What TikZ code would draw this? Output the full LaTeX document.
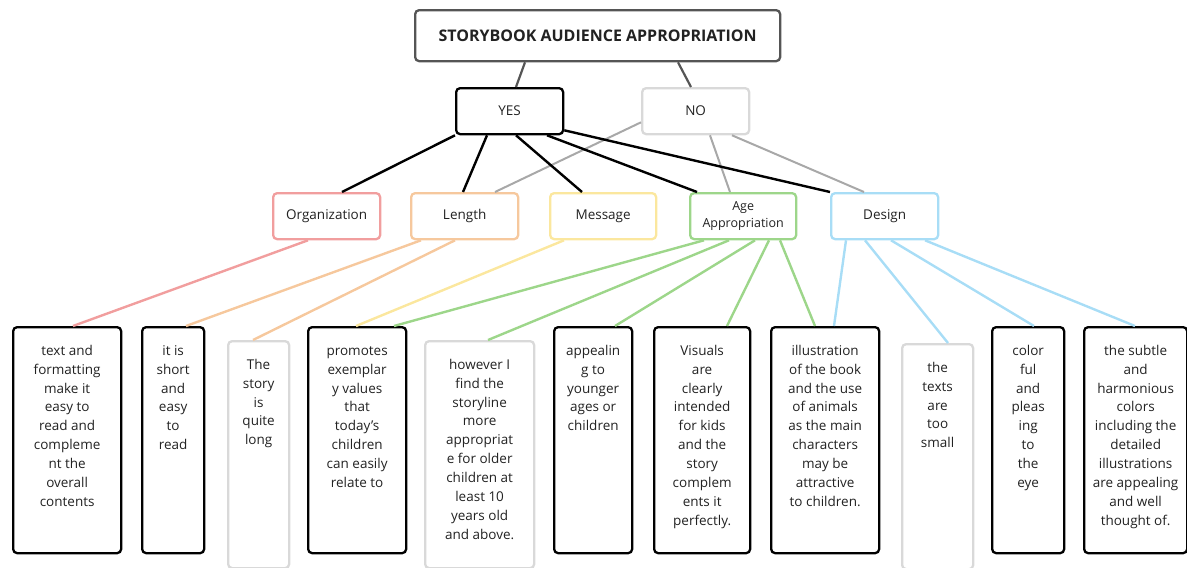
\documentclass[tikz,border=0pt]{standalone}
\usepackage{fontspec}
\setmainfont{Open Sans}
\definecolor{cpink}{HTML}{F19E9E}
\definecolor{corange}{HTML}{F6C89D}
\definecolor{cyellow}{HTML}{FBE79E}
\definecolor{cgreen}{HTML}{9DD68A}
\definecolor{cblue}{HTML}{A8DDF6}
\definecolor{lgray}{HTML}{D9D9D9}
\definecolor{mgray}{HTML}{A8A8A8}
\definecolor{dgray}{HTML}{555555}
\definecolor{txt}{HTML}{222222}
\tikzset{
  box/.style={draw, fill=white, rounded corners=4pt, line width=2.3pt, anchor=north west, inner sep=0pt, text=txt},
  leafbox/.style={box, minimum height=226pt},
  grayleaf/.style={box, draw=lgray, minimum height=226pt},
  cat/.style={box, minimum width=107pt, minimum height=46pt, align=center},
  lt/.style={anchor=north, inner sep=0pt, align=center, text=txt, font=\fontsize{13.5}{18.9}\selectfont},
  blk/.style={line width=2.4pt, black},
  nol/.style={line width=2pt, mgray},
}
\begin{document}
\begin{tikzpicture}[x=1pt,y=-1pt]
\useasboundingbox (0,0) rectangle (1187,568);
% top
\node[box, draw=dgray, minimum width=365pt, minimum height=51pt, font=\bfseries\fontsize{16}{19}\selectfont] (title) at (414,9) {STORYBOOK AUDIENCE APPROPRIATION};
\node[box, minimum width=107pt, minimum height=46pt, font=\fontsize{13.5}{16}\selectfont] (yes) at (455,87) {YES};
\node[box, draw=lgray, minimum width=107pt, minimum height=46pt, font=\fontsize{13.5}{16}\selectfont] (no) at (641,87) {NO};
% categories
\node[cat, draw=cpink, font=\fontsize{13.5}{16}\selectfont] (org) at (272,192) {Organization};
\node[cat, draw=corange, font=\fontsize{13.5}{16}\selectfont] (len) at (410,192) {Length};
\node[cat, draw=cyellow, minimum width=106pt, font=\fontsize{13.5}{16}\selectfont] (msg) at (549,192) {Message};
\node[cat, draw=cgreen, minimum width=106pt, font=\fontsize{12.5}{17}\selectfont] (age) at (689,192) {Age\\Appropriation};
\node[cat, draw=cblue, font=\fontsize{13.5}{16}\selectfont] (des) at (830,192) {Design};
% leaves
\node[leafbox, minimum width=108pt] (l1) at (12,326) {};
\node[leafbox, minimum width=62pt] (l2) at (141,326) {};
\node[grayleaf, minimum width=61pt, minimum height=227pt] (l3) at (227,340) {};
\node[leafbox, minimum width=98pt] (l4) at (307,326) {};
\node[grayleaf, minimum width=109pt, minimum height=227pt] (l5) at (424,340) {};
\node[leafbox, minimum width=78pt] (l6) at (553,326) {};
\node[leafbox, minimum width=96pt] (l7) at (653,326) {};
\node[leafbox, minimum width=108pt] (l8) at (770,326) {};
\node[grayleaf, minimum width=71pt, minimum height=225pt] (l9) at (901,343) {};
\node[leafbox, minimum width=72pt] (l10) at (991,326) {};
\node[leafbox, minimum width=103pt] (l11) at (1083,326) {};
% leaf texts
\node[lt] (t1) at ([yshift=-15.8]l1.north) {\strut text and\\formatting\\make it\\easy to\\read and\\compleme\\nt the\\overall\\contents};
\node[lt] (t2) at ([yshift=-15.8]l2.north) {\strut it is\\short\\and\\easy\\to\\read};
\node[lt] (t3) at ([yshift=-15.8]l3.north) {\strut The\\story\\is\\quite\\long};
\node[lt] (t4) at ([yshift=-15.8]l4.north) {\strut promotes\\exemplar\\y values\\that\\today’s\\children\\can easily\\relate to};
\node[lt] (t5) at ([yshift=-15.8]l5.north) {\strut however I\\find the\\storyline\\more\\appropriat\\e for older\\children at\\least 10\\years old\\and above.};
\node[lt] (t6) at ([yshift=-15.8]l6.north) {\strut appealin\\g to\\younger\\ages or\\children};
\node[lt] (t7) at ([yshift=-15.8]l7.north) {\strut Visuals\\are\\clearly\\intended\\for kids\\and the\\story\\complem\\ents it\\perfectly.};
\node[lt] (t8) at ([yshift=-15.8]l8.north) {\strut illustration\\of the book\\and the use\\of animals\\as the main\\characters\\may be\\attractive\\to children.};
\node[lt] (t9) at ([yshift=-15.8]l9.north) {\strut the\\texts\\are\\too\\small};
\node[lt] (t10) at ([yshift=-15.8]l10.north) {\strut color\\ful\\and\\pleas\\ing\\to\\the\\eye};
\node[lt] (t11) at ([yshift=-15.8]l11.north) {\strut the subtle\\and\\harmonious\\colors\\including the\\detailed\\illustrations\\are appealing\\and well\\thought of.};
% connectors
\draw[line width=2.2pt, dgray] ([xshift=111]title.south west) -- ([xshift=61]yes.north west);
\draw[line width=2.2pt, dgray] ([xshift=264]title.south west) -- ([xshift=50]no.north west);
\draw[nol] ([yshift=13]no.south west) -- ([xshift=85]len.north west);
\draw[nol] ([xshift=69]no.south west) -- ([xshift=41]age.north west);
\draw[nol] ([xshift=91]no.south west) -- ([xshift=34]des.north west);
\draw[blk] (yes.south west) -- ([xshift=70]org.north west);
\draw[blk] ([xshift=32]yes.south west) -- ([xshift=53]len.north west);
\draw[blk] ([xshift=61]yes.south west) -- ([xshift=33]msg.north west);
\draw[blk] ([xshift=92]yes.south west) -- ([xshift=8]age.north west);
\draw[blk] ([yshift=5]yes.south east) -- (des.north west);
\draw[line width=2.4pt, cpink] ([xshift=36]org.south west) -- ([xshift=61]l1.north west);
\draw[line width=2.4pt, corange] ([xshift=11]len.south west) -- ([xshift=45]l2.north west);
\draw[line width=2.4pt, corange] ([xshift=45]len.south west) -- ([xshift=26]l3.north west);
\draw[line width=2.4pt, cyellow] ([xshift=15]msg.south west) -- ([xshift=49]l4.north west);
\draw[line width=2.4pt, cgreen] ([xshift=15]age.south west) -- ([xshift=87]l4.north west);
\draw[line width=2.4pt, cgreen] ([xshift=40]age.south west) -- ([xshift=64]l5.north west);
\draw[line width=2.4pt, cgreen] ([xshift=66]age.south west) -- ([xshift=62]l6.north west);
\draw[line width=2.4pt, cgreen] ([xshift=80]age.south west) -- ([xshift=74]l7.north west);
\draw[line width=2.4pt, cgreen] ([xshift=91]age.south west) -- ([xshift=45]l8.north west);
\draw[line width=2.4pt, cblue] ([xshift=16]des.south west) -- ([xshift=64]l8.north west);
\draw[line width=2.4pt, cblue] ([xshift=35]des.south west) -- ([xshift=47]l9.north west);
\draw[line width=2.4pt, cblue] ([xshift=61]des.south west) -- ([xshift=43]l10.north west);
\draw[line width=2.4pt, cblue] ([xshift=95]des.south west) -- ([xshift=52]l11.north west);
\end{tikzpicture}
\end{document}
